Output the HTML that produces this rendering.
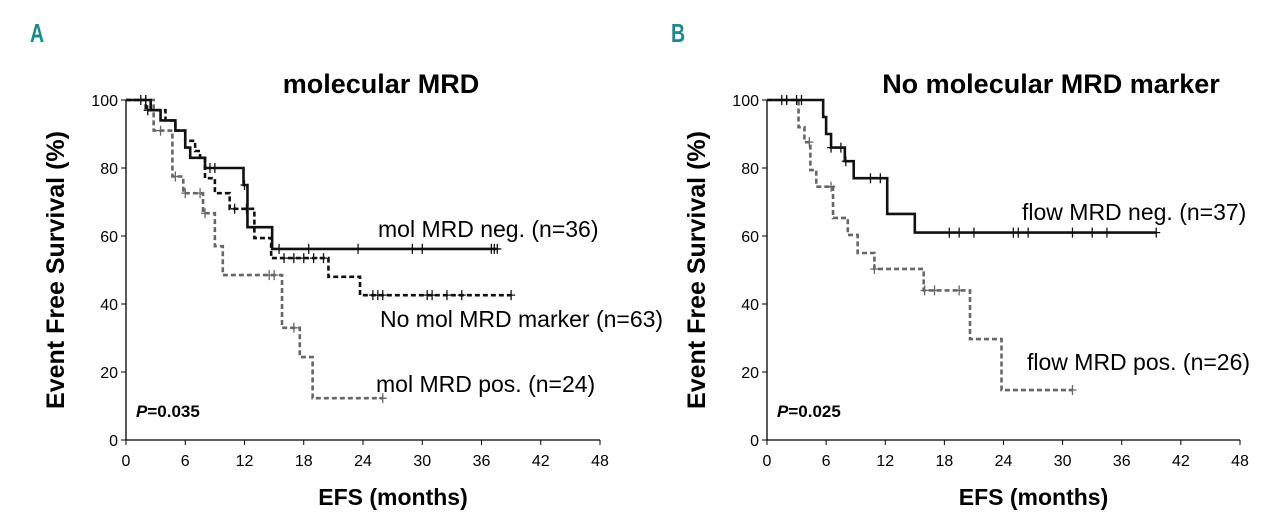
<!DOCTYPE html>
<html><head><meta charset="utf-8"><style>
body{margin:0;background:#fff;width:1280px;height:520px;overflow:hidden}
svg{font-family:"Liberation Sans",sans-serif}
</style></head><body>
<svg id="c" width="1280" height="520"></svg>
<script>
// Panel A data
const aNegSteps=[[0,100],[2.5,97],[3.5,94],[5,91],[6,86],[6.5,83],[8,80],[11.9,75],[12.3,62.6],[14.8,56.2]];
const aNegEnd=37.5;
const aNegCens=[1.5,2,8.5,9,12,15.5,18.5,23.5,29,30,37,37.3,37.6];
const aNoSteps=[[0,100],[2,97],[4,94],[5,91],[6,88],[7,85],[7.5,83],[8,77],[9,72.6],[10.5,68],[13,59.4],[14.7,53.5],[20.5,48],[23.7,42.6]];
const aNoEnd=39;
const aNoCens=[2.2,11,12.2,16,17,18,19,20,25,25.5,26,30.5,31,32.5,34,39];
const aPosSteps=[[0,100],[2.8,91],[4.7,77.5],[5.8,72.6],[7.8,66.7],[9,57],[9.8,48.5],[15.8,33],[17.6,24.4],[18.9,12.3]];
const aPosEnd=26;
const aPosCens=[2,3.5,5,6,7.5,8,14.5,15,17,26];
// Panel B data
const bNegSteps=[[0,100],[5.7,95],[6,90],[6.5,86],[7.9,82],[8.8,77],[12.2,66.5],[15,61]];
const bNegEnd=39.5;
const bNegCens=[1.5,2,3,3.5,6.5,7.5,8,10.5,11.5,18.5,19.5,21,25,25.5,26.5,31,33,34.5,39.5];
const bPosSteps=[[0,100],[3.2,92],[3.8,87.6],[4.4,79.4],[5,74.5],[6.7,65.3],[8.2,60.3],[9.2,55],[10.9,50.3],[15.9,44],[20.6,29.7],[23.8,14.7]];
const bPosEnd=31;
const bPosCens=[2,4.3,6.5,10.9,16,17,19.5,31];
const xTicks=[0,6,12,18,24,30,36,42,48];
const yTicks=[0,20,40,60,80,100];

const svg=document.getElementById('c');
const NS='http://www.w3.org/2000/svg';
function mk(tag,attrs,parent){const e=document.createElementNS(NS,tag);for(const k in attrs)e.setAttribute(k,attrs[k]);(parent||svg).appendChild(e);return e;}
function txt(s,attrs,parent){const e=mk('text',attrs,parent);e.textContent=s;return e;}
function valAt(steps,t){let v=100;for(const s of steps){if(s[0]<=t)v=s[1];}return v;}

function panel(name,x0,x48,letter,title,titleX,series,pText){
  const g=mk('g',{});
  const X=t=>x0+(x48-x0)*t/48, Y=v=>440-3.4*v;
  const l=txt(letter,{x:x0-96,y:42,'font-size':26,'font-weight':'bold',fill:'#1a8a8a',transform:`translate(${x0-96},0) scale(0.75,1) translate(${-(x0-96)},0)`},g);
  
  const ax=mk('path',{d:`M${x0} 100V440H${x48}`,stroke:'#000','stroke-width':1.3,fill:'none'},g);
  
  for(const t of xTicks){mk('line',{x1:X(t),x2:X(t),y1:440,y2:445,stroke:'#000'},g);
    const e=txt(String(t),{x:X(t),y:466,'font-size':16,'text-anchor':'middle'},g);}
  for(const v of yTicks){mk('line',{x1:x0-5,x2:x0,y1:Y(v),y2:Y(v),stroke:'#000'},g);
    const e=txt(String(v),{x:x0-8,y:Y(v)+6,'font-size':16,'text-anchor':'end'},g);}
  const xt=txt('EFS (months)',{x:(x0+x48)/2+30,y:505,'font-size':23,'font-weight':'bold','text-anchor':'middle'},g);
  
  const yt=txt('Event Free Survival (%)',{transform:`translate(${x0-62},270) rotate(-90)`,'font-size':25,'font-weight':'bold','text-anchor':'middle'},g);
  
  const tt=txt(title,{x:titleX,y:93,'font-size':27,'font-weight':'bold','text-anchor':'middle'},g);
  
  const pt=txt('',{x:x0+10,y:417,'font-size':17,'font-weight':'bold'},g);
  const pi=mk('tspan',{'font-style':'italic'},pt);pi.textContent='P';
  const pv=mk('tspan',{},pt);pv.textContent=pText;
  
  for(const s of series){
    let d=`M${X(0)} ${Y(s.steps[0][1])}`;
    for(let i=1;i<s.steps.length;i++){d+=`H${X(s.steps[i][0])}V${Y(s.steps[i][1])}`;}
    d+=`H${X(s.end)}`;
    const p=mk('path',{d,stroke:s.color,'stroke-width':s.w,fill:'none','stroke-dasharray':s.dash||'none'},g);
    
    for(const c of s.cens){const v=valAt(s.steps,c);
      const m=mk('path',{d:`M${X(c)} ${Y(v)-5}v10M${X(c)-4} ${Y(v)}h8`,stroke:s.color,'stroke-width':1.3},g);
      }
    const lb=txt(s.label,{x:s.lx,y:s.ly,'font-size':s.fs},g);
    
  }
}
panel('panel-a',126,600,'A','molecular MRD',381,[
 {name:'no-marker-line',steps:aNoSteps,end:aNoEnd,cens:aNoCens,color:'#111',w:2.6,dash:'5 3',label:'No mol MRD marker (n=63)',lx:380,ly:327,fs:23},
 {name:'mrd-pos-line',steps:aPosSteps,end:aPosEnd,cens:aPosCens,color:'#666',w:2.6,dash:'5 3',label:'mol MRD pos. (n=24)',lx:376,ly:392,fs:23},
 {name:'mrd-neg-line',steps:aNegSteps,end:aNegEnd,cens:aNegCens,color:'#111',w:2.6,label:'mol MRD neg. (n=36)',lx:378,ly:237,fs:23}
],'=0.035');
panel('panel-b',767,1240,'B','No molecular MRD marker',1051,[
 {name:'flow-pos-line',steps:bPosSteps,end:bPosEnd,cens:bPosCens,color:'#666',w:2.6,dash:'5 3',label:'flow MRD pos. (n=26)',lx:1027,ly:370,fs:23},
 {name:'flow-neg-line',steps:bNegSteps,end:bNegEnd,cens:bNegCens,color:'#111',w:2.6,label:'flow MRD neg. (n=37)',lx:1022,ly:220,fs:23}
],'=0.025');
</script>
</body></html>
